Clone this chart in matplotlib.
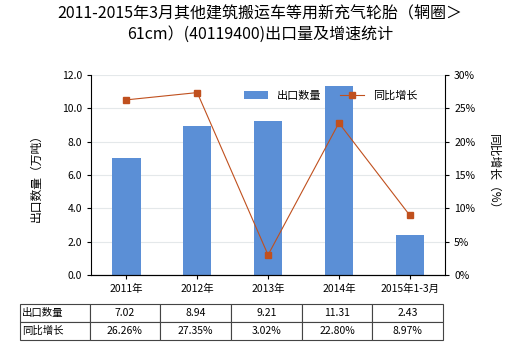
import numpy as np
import matplotlib.pyplot as plt
from matplotlib.ticker import FuncFormatter

plt.rcParams['font.family'] = ['Noto Sans CJK SC', 'DejaVu Sans']

# data
years = ['2011年', '2012年', '2013年', '2014年', '2015年1-3月']
qty = [7.02, 8.94, 9.21, 11.31, 2.43]
growth = [26.26, 27.35, 3.02, 22.80, 8.97]

bar_color = '#5B8FD6'
line_color = '#C0501E'

fig = plt.figure(figsize=(5.2, 3.5), dpi=100)
ax = fig.add_axes([0.175, 0.214, 0.681, 0.572])
x = np.arange(len(years))

ax.bar(x, qty, width=0.4, color=bar_color, label='出口数量', zorder=2)
ax.set_ylim(0, 12)
ax.set_yticks(np.arange(0, 12.1, 2))
ax.yaxis.set_major_formatter(FuncFormatter(lambda v, p: f'{v:.1f}'))
ax.set_xlim(-0.5, len(years) - 0.5)
ax.set_xticks(x)
ax.set_xticklabels(years)
ax.grid(axis='y', color='#E4E8EA', linewidth=0.8, zorder=0)
ax.set_ylabel('出口数量（万吨）', fontsize=8.5, labelpad=14)
for s in ['top', 'right']:
    ax.spines[s].set_visible(False)
ax.tick_params(labelsize=7.5, length=3)

ax2 = ax.twinx()
ax2.plot(x, growth, color=line_color, marker='s', markersize=4, linewidth=0.8, label='同比增长')
ax2.set_ylim(0, 30)
ax2.set_yticks(np.arange(0, 31, 5))
ax2.yaxis.set_major_formatter(FuncFormatter(lambda v, p: f'{v:.0f}%'))
ax2.set_ylabel('同比增长（%）', fontsize=8.5, rotation=270, labelpad=18)
for s in ['top', 'left']:
    ax2.spines[s].set_visible(False)
ax2.tick_params(labelsize=7.5, length=3)

h1, l1 = ax.get_legend_handles_labels()
h2, l2 = ax2.get_legend_handles_labels()
ax2.legend(h1 + h2, l1 + l2, loc='upper right', bbox_to_anchor=(0.95, 0.97), ncol=2,
           frameon=False, fontsize=8, handlelength=2.2, columnspacing=1.6)

fig.suptitle('2011-2015年3月其他建筑搬运车等用新充气轮胎（辋圈＞\n61cm）(40119400)出口量及增速统计',
             fontsize=11.5, y=0.985, linespacing=1.3)

# data table under the chart
cells = [['出口数量'] + [f'{v:.2f}' for v in qty],
         ['同比增长'] + [f'{v:.2f}%' for v in growth]]
tax = fig.add_axes([0.038, 0.029, 0.814, 0.102])
tax.axis('off')
tbl = tax.table(cellText=cells, bbox=[0, 0, 1, 1],
                colWidths=[0.165] + [0.167] * 5, cellLoc='center')
tbl.auto_set_font_size(False)
tbl.set_fontsize(7.5)
for (r, c), cell in tbl.get_celld().items():
    cell.set_edgecolor('#444444')
    cell.set_linewidth(0.8)
    if c == 0:
        cell._loc = 'left'
        cell.PAD = 0.03
        cell.get_text().set_horizontalalignment('left')

fig.savefig('out.png', dpi=100)
